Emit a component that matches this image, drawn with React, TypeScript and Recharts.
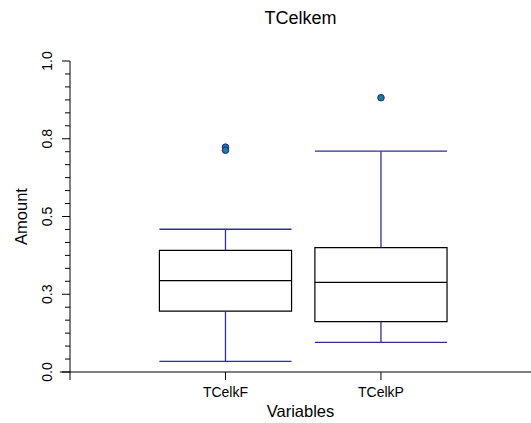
import React from 'react';
import { ComposedChart, XAxis, YAxis, ReferenceArea, ReferenceLine, Scatter, Label } from 'recharts';

const categories = ['TCelkF', 'TCelkP'];
const positions = [1, 2];
const whiskerLow = [0.034, 0.095];
const q1 = [0.196, 0.162];
const median = [0.294, 0.288];
const q3 = [0.391, 0.4];
const whiskerHigh = [0.459, 0.71];
const outlierPos = [1, 1, 2];
const outlierValues = [0.723, 0.713, 0.882];
const yTicks = [0, 0.25, 0.5, 0.75, 1];
const yTickLabels = ['0.0', '0.3', '0.5', '0.8', '1.0'];
const minorPerMajor = 6;

const FONT = '"Liberation Sans", Arial, sans-serif';
const WHISKER = '#2e2e9e';
const HALF = 0.425;

const minorTicks: number[] = [];
for (let i = 0; i <= (yTicks.length - 1) * minorPerMajor; i++) {
  minorTicks.push(i / ((yTicks.length - 1) * minorPerMajor));
}

const outlierData = outlierValues.map((v, i) => ({ x: outlierPos[i], y: v }));

const YTick = (props: any) => {
  const { x, y, payload } = props;
  const idx = yTicks.findIndex((t) => Math.abs(t - payload.value) < 1e-9);
  const major = idx >= 0;
  const tx = x - 18.5;
  return (
    <g>
      <line x1={x} x2={x - (major ? 8 : 5)} y1={y} y2={y} stroke="#000" strokeWidth={1} />
      {major && (
        <text x={tx} y={y} transform={`rotate(-90 ${tx} ${y})`} textAnchor="middle" fontSize={14} fill="#000" fontFamily={FONT}>
          {yTickLabels[idx]}
        </text>
      )}
    </g>
  );
};

export default function App() {
  return (
    <div style={{ position: 'absolute', left: 0, top: 0, width: 531, height: 423, background: '#fff' }}>
      <div style={{ position: 'absolute', left: 70, width: 461, top: 8, textAlign: 'center', fontFamily: FONT, fontSize: 18, color: '#000', lineHeight: '21px' }}>
        TCelkem
      </div>
      <ComposedChart width={531} height={423} margin={{ top: 61, right: 0, left: 0, bottom: 0 }}>
        <XAxis
          type="number"
          dataKey="x"
          domain={[0, 2.965]}
          ticks={positions}
          tickFormatter={(v: number) => categories[positions.indexOf(v)] ?? ''}
          height={51}
          stroke="#000"
          tickSize={8}
          tickMargin={7}
          tick={{ fontSize: 14, fill: '#000', fontFamily: FONT }}
          allowDataOverflow
        >
          <Label
            content={() => (
              <text x={300.5} y={417} textAnchor="middle" fontSize={16.5} fill="#000" fontFamily={FONT}>
                Variables
              </text>
            )}
          />
        </XAxis>
        <YAxis
          type="number"
          dataKey="y"
          domain={[0, 1]}
          ticks={minorTicks}
          interval={0}
          width={70}
          stroke="#000"
          tickLine={false}
          tickSize={0}
          tickMargin={0}
          tick={<YTick />}
          allowDataOverflow
        >
          <Label
            content={() => (
              <text x={27} y={216.5} transform="rotate(-90 27 216.5)" textAnchor="middle" fontSize={16.5} fill="#000" fontFamily={FONT}>
                Amount
              </text>
            )}
          />
        </YAxis>
        <ReferenceLine segment={[{ x: 0, y: 0 }, { x: -0.065, y: 0 }]} stroke="#000" ifOverflow="visible" />
        <ReferenceLine segment={[{ x: 0, y: 0 }, { x: 0, y: -0.026 }]} stroke="#000" ifOverflow="visible" />
        {positions.map((p, i) => (
          <ReferenceLine key={`wu${i}`} segment={[{ x: p, y: q3[i] }, { x: p, y: whiskerHigh[i] }]} stroke={WHISKER} strokeWidth={1.3} />
        ))}
        {positions.map((p, i) => (
          <ReferenceLine key={`wl${i}`} segment={[{ x: p, y: whiskerLow[i] }, { x: p, y: q1[i] }]} stroke={WHISKER} strokeWidth={1.3} />
        ))}
        {positions.map((p, i) => (
          <ReferenceLine key={`cu${i}`} segment={[{ x: p - HALF, y: whiskerHigh[i] }, { x: p + HALF, y: whiskerHigh[i] }]} stroke={WHISKER} strokeWidth={1.3} />
        ))}
        {positions.map((p, i) => (
          <ReferenceLine key={`cl${i}`} segment={[{ x: p - HALF, y: whiskerLow[i] }, { x: p + HALF, y: whiskerLow[i] }]} stroke={WHISKER} strokeWidth={1.3} />
        ))}
        {positions.map((p, i) => (
          <ReferenceArea key={`b${i}`} x1={p - HALF} x2={p + HALF} y1={q1[i]} y2={q3[i]} fill="#fff" fillOpacity={1} stroke="#000" strokeWidth={1.2} />
        ))}
        {positions.map((p, i) => (
          <ReferenceLine key={`m${i}`} segment={[{ x: p - HALF, y: median[i] }, { x: p + HALF, y: median[i] }]} stroke="#000" strokeWidth={1.2} />
        ))}
        <Scatter
          data={outlierData}
          dataKey="y"
          isAnimationActive={false}
          shape={(p: any) => <circle cx={p.cx} cy={p.cy} r={3.3} fill="#1a7f8e" stroke="#23239a" strokeWidth={1} />}
        />
      </ComposedChart>
    </div>
  );
}
